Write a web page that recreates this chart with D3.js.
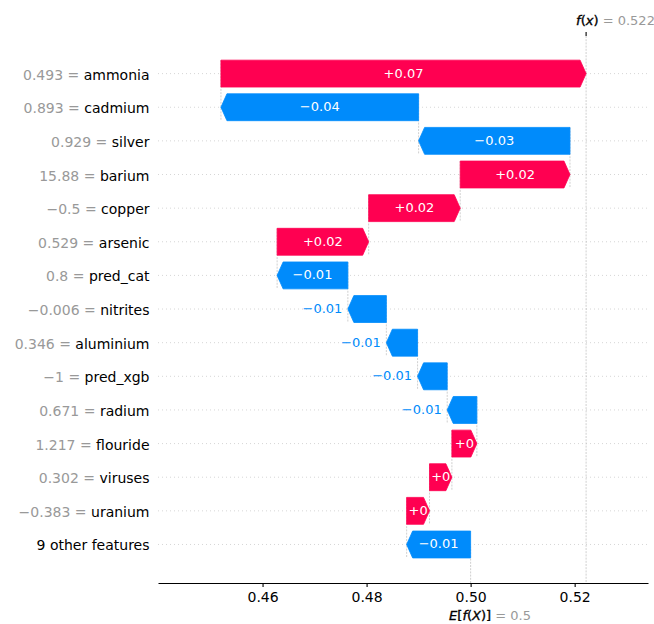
<!DOCTYPE html>
<html>
<head>
<meta charset="utf-8">
<script src="https://cdn.jsdelivr.net/npm/d3@7"></script>
<style>
  html, body { margin: 0; padding: 0; background: #fff; }
  svg { display: block; font-family: "DejaVu Sans", sans-serif; }
</style>
</head>
<body>
<svg id="chart" width="654" height="624"></svg>
<script>
// SHAP waterfall: each feature's contribution stacked from the expected value up to f(x).
// Rows are listed top to bottom.
const featureNames = ["ammonia", "cadmium", "silver", "barium", "copper", "arsenic", "pred_cat",
  "nitrites", "aluminium", "pred_xgb", "radium", "flouride", "viruses", "uranium", "9 other features"];
const featureValues = [0.493, 0.893, 0.929, 15.88, -0.5, 0.529, 0.8,
  -0.006, 0.346, -1, 0.671, 1.217, 0.302, -0.383, null];
const shapValues = [0.0702, -0.0380, -0.0291, 0.0211, 0.0176, 0.0176, -0.0136,
  -0.0074, -0.0060, -0.0057, -0.0057, 0.0048, 0.0043, 0.0044, -0.0123];
const baseValue = 0.5;
const xTicks = [0.46, 0.48, 0.50, 0.52];
const xDomain = [0.4399, 0.5341];

const RED = "#ff0051", BLUE = "#008bfb";

// number formatting as in shap: printf, strip trailing zeros, use a real minus sign
function formatValue(v, digits, signed) {
  let s = (signed && v >= 0 ? "+" : "") + v.toFixed(digits);
  s = s.replace(/\.?0+$/, "");
  if (s[0] === "-") s = "\u2212" + s.slice(1);
  return s;
}

const svg = d3.select("#chart");
const plot = { left: 158, right: 648, top: 36, bottom: 583 };

const n = featureNames.length;
const x = d3.scaleLinear().domain(xDomain).range([plot.left, plot.right]);
// row index 0 is the bottom row ("other features"), n-1 the top row
const y = d3.scaleLinear().domain([-1.145, 15.118]).range([plot.bottom, plot.top]);
const unit = y(0) - y(1);
const half = 0.4 * unit;

// cumulative positions, accumulated from the bottom row upward
const rows = [];
let cum = baseValue;
for (let i = n - 1; i >= 0; i--) {
  const start = cum;
  cum += shapValues[i];
  rows.push({ i, row: n - 1 - i, name: featureNames[i], fval: featureValues[i], v: shapValues[i], start, end: cum });
}
const fx = cum;

const gGrid = svg.append("g");
const gBars = svg.append("g");
const gText = svg.append("g");

// horizontal dotted guide per row
gGrid.selectAll("line.row").data(rows).join("line")
  .attr("x1", plot.left).attr("x2", plot.right)
  .attr("y1", d => y(d.row)).attr("y2", d => y(d.row))
  .attr("stroke", "#cccccc").attr("stroke-width", 0.8).attr("stroke-dasharray", "1,3");

// connectors between consecutive bars
gGrid.selectAll("line.conn").data(rows.filter(d => d.row > 0)).join("line")
  .attr("x1", d => x(d.start)).attr("x2", d => x(d.start))
  .attr("y1", d => y(d.row) - half).attr("y2", d => y(d.row - 1) + half)
  .attr("stroke", "#bbbbbb").attr("stroke-width", 0.7).attr("stroke-dasharray", "2,1.2");

// expected value and model output guides
gGrid.append("line")
  .attr("x1", x(baseValue)).attr("x2", x(baseValue))
  .attr("y1", plot.bottom).attr("y2", plot.bottom - (plot.bottom - plot.top) / n)
  .attr("stroke", "#bbbbbb").attr("stroke-width", 0.7).attr("stroke-dasharray", "2,1.2");
gGrid.append("line")
  .attr("x1", x(fx)).attr("x2", x(fx))
  .attr("y1", plot.top).attr("y2", plot.bottom)
  .attr("stroke", "#bbbbbb").attr("stroke-width", 0.7).attr("stroke-dasharray", "2,1.2");

// arrow-shaped bars
function arrowPath(d) {
  const x0 = x(d.start), x1 = x(d.end), yc = y(d.row);
  const dir = d.v >= 0 ? 1 : -1;
  const hl = Math.min(6, Math.abs(x1 - x0));
  const xb = x1 - dir * hl;
  return `M${x0},${yc - half}L${xb},${yc - half}L${x1},${yc}L${xb},${yc + half}L${x0},${yc + half}Z`;
}
gBars.selectAll("path").data(rows).join("path")
  .attr("d", arrowPath)
  .attr("fill", d => d.v >= 0 ? RED : BLUE)
  .attr("stroke", d => d.v >= 0 ? RED : BLUE)
  .attr("stroke-width", 0.8)
  .attr("stroke-linejoin", "miter");

// value labels: inside the arrow when they fit, otherwise just past its tip
gText.selectAll("text.val").data(rows).join("text")
  .attr("class", "val")
  .attr("font-size", 13)
  .text(d => formatValue(d.v, 2, true))
  .each(function (d) {
    const t = d3.select(this);
    const tw = this.getComputedTextLength();
    const x0 = x(d.start), x1 = x(d.end);
    const bw = Math.abs(x1 - x0);
    const yb = y(d.row) + 4;
    if (tw + 1 < bw) {
      t.attr("x", (x0 + x1) / 2).attr("y", yb).attr("text-anchor", "middle").attr("fill", "#fff");
    } else if (d.v >= 0) {
      t.attr("x", x1 + 5.5).attr("y", yb).attr("text-anchor", "start").attr("fill", RED);
    } else {
      t.attr("x", x1 - 5.5).attr("y", yb).attr("text-anchor", "end").attr("fill", BLUE);
    }
  });

// feature labels: grey value, black feature name
const yl = gText.selectAll("text.ylab").data(rows).join("text")
  .attr("class", "ylab")
  .attr("x", plot.left - 8.5)
  .attr("y", d => y(d.row) + 6)
  .attr("text-anchor", "end")
  .attr("font-size", 14);
yl.filter(d => d.fval !== null).append("tspan")
  .attr("fill", "#999999")
  .text(d => formatValue(d.fval, 3, false) + " = ");
yl.append("tspan").attr("fill", "#000").text(d => d.name);

// bottom axis
const axis = svg.append("g")
  .attr("transform", `translate(0,${plot.bottom})`)
  .call(d3.axisBottom(x).tickValues(xTicks).tickFormat(d3.format(".2f")).tickSize(4).tickSizeOuter(0));
axis.select(".domain").attr("stroke", "#000").attr("stroke-width", 1.1);
axis.selectAll(".tick line").attr("stroke", "#000").attr("stroke-width", 1.1);
axis.selectAll(".tick text")
  .attr("font-family", "DejaVu Sans, sans-serif").attr("font-size", 14).attr("fill", "#000")
  .attr("y", 0).attr("dy", 0).attr("transform", "translate(0,18.7)");

// math-style label: italic symbols in black, then a grey "= value"
function mathLabel(sel, parts, valueText) {
  parts.forEach(([txt, italic]) => {
    sel.append("tspan")
      .attr("fill", "#000").attr("stroke", "#000").attr("stroke-width", 0.35)
      .attr("font-style", italic ? "italic" : "normal")
      .text(txt);
  });
  sel.append("tspan").attr("fill", "#999999").text(valueText);
}

// f(x) marker on the top edge
svg.append("line")
  .attr("x1", x(fx)).attr("x2", x(fx)).attr("y1", plot.top - 4).attr("y2", plot.top)
  .attr("stroke", "#000").attr("stroke-width", 1.1);
mathLabel(svg.append("text").attr("x", x(fx) - 10).attr("y", 25).attr("font-size", 13),
  [["f", true], ["(", false], ["x", true], [")", false]],
  " = " + formatValue(fx, 3, false));

// expected value label under the axis
mathLabel(svg.append("text").attr("x", x(baseValue) - 21.5).attr("y", 620).attr("font-size", 13),
  [["E", true], ["[", false], ["f", true], ["(", false], ["X", true], [")]", false]],
  " = " + formatValue(baseValue, 3, false));
</script>
</body>
</html>
